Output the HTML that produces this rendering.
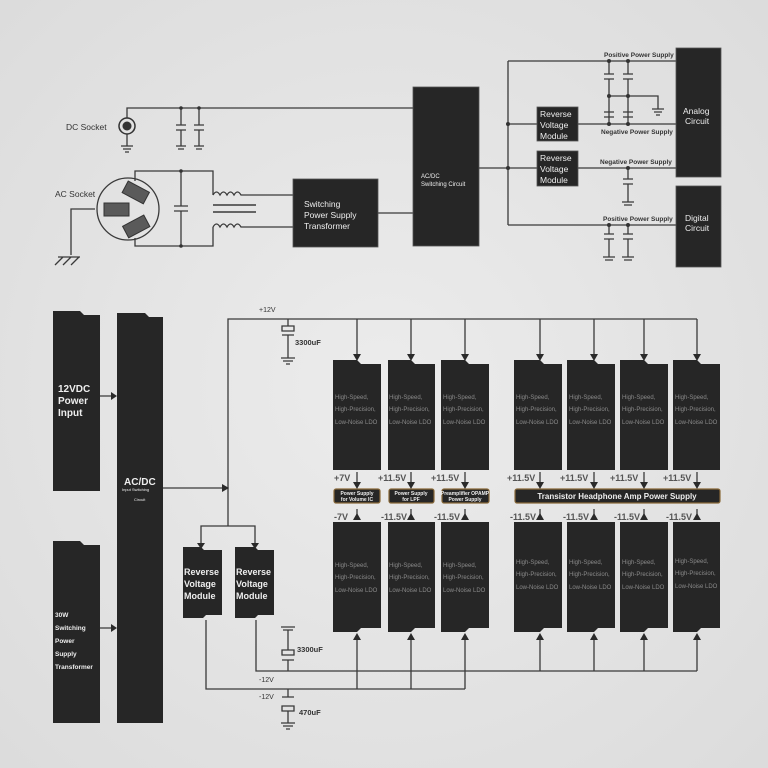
<!DOCTYPE html>
<html><head><meta charset="utf-8"><style>
html,body{margin:0;padding:0;width:768px;height:768px;overflow:hidden;background:#e3e3e3}
svg{display:block;font-family:"Liberation Sans",sans-serif}
</style></head><body>
<svg width="768" height="768" viewBox="0 0 768 768" xmlns="http://www.w3.org/2000/svg">
<defs>
<radialGradient id="bg" cx="50%" cy="50%" r="70%"><stop offset="0" stop-color="#ececec"/><stop offset="1" stop-color="#dcdcdc"/></radialGradient>
</defs>
<rect width="768" height="768" fill="url(#bg)"/>
<g stroke="#3a3a3a" stroke-width="1.3" fill="none">
<path d="M127,118 V108 H413"/>
<path d="M127,134 V146 M121,146 H133 M123,149 H131 M125,152 H129"/>
<path d="M181,108 V125 M181,130 V146 M176,125 H186 M176,130 H186 M176,146 H186 M178,149 H184"/>
<path d="M199,108 V125 M199,130 V146 M194,125 H204 M194,130 H204 M194,146 H204 M196,149 H202"/>
<circle cx="128" cy="209" r="31"/>
<path d="M135,181 V171 H213 V195 M135,238 V246 H213 V227"/>
<path d="M181,171 V206 M181,211 V246 M174,206 H188 M174,211 H188"/>
<path d="M213,195 q3.5,-6 7,0 q3.5,-6 7,0 q3.5,-6 7,0 q3.5,-6 7,0 H293 M213,227 q3.5,-6 7,0 q3.5,-6 7,0 q3.5,-6 7,0 q3.5,-6 7,0 H293"/>
<path d="M213,205 H256 M213,212 H256" stroke-width="1.6"/>
<path d="M95,209 H71 V255 M55,265 l8,-8 M63,265 l8,-8 M71,265 l8,-8 M58,257 H80"/>
<path d="M378,213 H413"/>
<path d="M479,168 H537 M508,61 V225 M508,61 H676 M508,124 H537 M578,124 H676 M578,168 H676 M508,225 H676"/>
<path d="M609,61 V74 M609,79 V112 M604,74 H614 M604,79 H614 M628,61 V74 M628,79 V112 M623,74 H633 M623,79 H633"/>
<path d="M609,96 H658 V109 M652,109 H664 M654,112 H662 M656,115 H660"/>
<path d="M609,112 V117 M628,112 V117 M604,112 H614 M604,117 H614 M623,112 H633 M623,117 H633 M609,117 V124 M628,117 V124"/>
<path d="M628,168 V179 M628,184 V202 M623,179 H633 M623,184 H633 M622,202 H634 M624,205 H632"/>
<path d="M609,225 V234 M609,239 V257 M604,234 H614 M604,239 H614 M603,257 H615 M605,260 H613 M628,225 V234 M628,239 V257 M623,234 H633 M623,239 H633 M622,257 H634 M624,260 H632"/>
<path d="M228,526 V319 H697"/>
<path d="M357,319 V354 M411,319 V354 M465,319 V354 M540,319 V354 M594,319 V354 M644,319 V354 M697,319 V354"/>
<path d="M288,319 V326 M282,326 H294 V331 H282 Z M282,335 H294 M288,335 V358 M281,358 H295 M283,361 H293 M286,364 H290"/>
<path d="M163,488 H222 M100,396 H111 M100,628 H111"/>
<path d="M201,543 V526 H255 V543"/>
<path d="M206,620 V689 H465 M256,620 V671 H697"/>
<path d="M281,627 H295 M283,630 H293 M288,630 V650 M282,650 H294 V655 H282 Z M282,660 H294 M288,660 V671"/>
<path d="M282,697 H294 M288,689 V697 M282,706 H294 V711 H282 Z M288,711 V723 M281,723 H295 M283,726 H293 M286,729 H290"/>
<path d="M357,472 V482 M411,472 V482 M465,472 V482 M540,472 V482 M594,472 V482 M644,472 V482 M697,472 V482"/>
<path d="M357,509 V520 M411,509 V520 M465,509 V520 M540,509 V520 M594,509 V520 M644,509 V520 M697,509 V520"/>
<path d="M357,689 V640 M411,689 V640 M465,689 V640 M540,671 V640 M594,671 V640 M644,671 V640 M697,671 V640"/>
</g>
<g fill="#333">
<circle cx="127" cy="126" r="8" fill="none" stroke="#333" stroke-width="1.5"/>
<circle cx="127" cy="126" r="4.5"/>
<g fill="#5a5a5a" stroke="#333" stroke-width="1"><rect x="104" y="203" width="25" height="13"/><rect x="124" y="186" width="24" height="13" transform="rotate(28 136 192)"/><rect x="124" y="220" width="24" height="13" transform="rotate(-28 136 226)"/></g>
<circle cx="181" cy="108" r="1.8"/><circle cx="199" cy="108" r="1.8"/><circle cx="181" cy="171" r="1.8"/><circle cx="181" cy="246" r="1.8"/>
<circle cx="508" cy="124" r="2"/><circle cx="508" cy="168" r="2"/>
<circle cx="609" cy="61" r="2"/><circle cx="628" cy="61" r="2"/><circle cx="609" cy="96" r="2"/><circle cx="628" cy="96" r="2"/><circle cx="609" cy="124" r="2"/><circle cx="628" cy="124" r="2"/><circle cx="628" cy="168" r="2"/><circle cx="609" cy="225" r="2"/><circle cx="628" cy="225" r="2"/>
</g>
<g fill="#262626" stroke="#555" stroke-width="0.8">
<rect x="293" y="179" width="85" height="68"/>
<rect x="413" y="87" width="66" height="159"/>
<rect x="537" y="107" width="41" height="34"/>
<rect x="537" y="151" width="41" height="35"/>
<rect x="676" y="48" width="45" height="129"/>
<rect x="676" y="186" width="45" height="81"/>
</g>
<g fill="#262626">
<path d="M53,311 H80 l4,4 H100 V491 H53 Z"/>
<path d="M53,541 H80 l4,4 H100 V723 H53 Z"/>
<path d="M117,313 H145 l4,4 H163 V723 H117 Z"/>
<path d="M183,547 H201 l3,3 H222 V615 H206 l-3,3 H183 Z"/>
<path d="M235,547 H255 l3,3 H274 V615 H258 l-3,3 H235 Z"/>
<path d="M333,360 H357 l4,4 H381 V470 H333 Z"/>
<path d="M388,360 H411 l4,4 H435 V470 H388 Z"/>
<path d="M441,360 H465 l4,4 H489 V470 H441 Z"/>
<path d="M514,360 H540 l4,4 H562 V470 H514 Z"/>
<path d="M567,360 H594 l4,4 H615 V470 H567 Z"/>
<path d="M620,360 H644 l4,4 H668 V470 H620 Z"/>
<path d="M673,360 H697 l4,4 H720 V470 H673 Z"/>
<path d="M333,522 H381 V628 H361 l-4,4 H333 Z"/>
<path d="M388,522 H435 V628 H415 l-4,4 H388 Z"/>
<path d="M441,522 H489 V628 H469 l-4,4 H441 Z"/>
<path d="M514,522 H562 V628 H544 l-4,4 H514 Z"/>
<path d="M567,522 H615 V628 H598 l-4,4 H567 Z"/>
<path d="M620,522 H668 V628 H648 l-4,4 H620 Z"/>
<path d="M673,522 H720 V628 H701 l-4,4 H673 Z"/>
<g stroke="#8a6a3a" stroke-width="1.2"><rect x="334" y="489" width="46" height="14" rx="2"/><rect x="389" y="489" width="45" height="14" rx="2"/><rect x="442" y="489" width="47" height="14" rx="2"/><rect x="515" y="489" width="205" height="14" rx="2"/></g>
</g>
<g fill="#2a2a2a">
<path d="M353,354 h8 l-4,7 z M407,354 h8 l-4,7 z M461,354 h8 l-4,7 z M536,354 h8 l-4,7 z M590,354 h8 l-4,7 z M640,354 h8 l-4,7 z M693,354 h8 l-4,7 z"/>
<path d="M353,482 h8 l-4,7 z M407,482 h8 l-4,7 z M461,482 h8 l-4,7 z M536,482 h8 l-4,7 z M590,482 h8 l-4,7 z M640,482 h8 l-4,7 z M693,482 h8 l-4,7 z"/>
<path d="M353,520 h8 l-4,-7 z M407,520 h8 l-4,-7 z M461,520 h8 l-4,-7 z M536,520 h8 l-4,-7 z M590,520 h8 l-4,-7 z M640,520 h8 l-4,-7 z M693,520 h8 l-4,-7 z"/>
<path d="M353,640 h8 l-4,-7 z M407,640 h8 l-4,-7 z M461,640 h8 l-4,-7 z M536,640 h8 l-4,-7 z M590,640 h8 l-4,-7 z M640,640 h8 l-4,-7 z M693,640 h8 l-4,-7 z"/>
<path d="M111,392 v8 l6,-4 z M111,624 v8 l6,-4 z M222,484 v8 l7,-4 z M197,543 h8 l-4,6 z M251,543 h8 l-4,6 z"/>
</g>
<g font-size="8.5" fill="#333">
<text x="66" y="130">DC Socket</text>
<text x="55" y="197">AC Socket</text>
<text x="604" y="57" font-size="6.5" font-weight="bold">Positive Power Supply</text>
<text x="601" y="134" font-size="6.5" font-weight="bold">Negative Power Supply</text>
<text x="600" y="164" font-size="6.5" font-weight="bold">Negative Power Supply</text>
<text x="603" y="221" font-size="6.5" font-weight="bold">Positive Power Supply</text>
<text x="259" y="312" font-size="7">+12V</text>
<text x="295" y="345" font-size="7.5" font-weight="bold">3300uF</text>
<text x="297" y="652" font-size="7.5" font-weight="bold">3300uF</text>
<text x="259" y="682" font-size="7">-12V</text>
<text x="259" y="699" font-size="7">-12V</text>
<text x="299" y="715" font-size="7.5" font-weight="bold">470uF</text>
<g font-size="9" font-weight="bold" fill="#555">
<text x="334" y="481">+7V</text><text x="378" y="481">+11.5V</text><text x="431" y="481">+11.5V</text><text x="507" y="481">+11.5V</text><text x="560" y="481">+11.5V</text><text x="610" y="481">+11.5V</text><text x="663" y="481">+11.5V</text>
<text x="334" y="520">-7V</text><text x="381" y="520">-11.5V</text><text x="434" y="520">-11.5V</text><text x="510" y="520">-11.5V</text><text x="563" y="520">-11.5V</text><text x="614" y="520">-11.5V</text><text x="666" y="520">-11.5V</text>
</g>
</g>
<g fill="#eee" font-size="8.5">
<text x="304" y="207">Switching</text><text x="304" y="218">Power Supply</text><text x="304" y="229">Transformer</text>
<text x="421" y="178" font-size="6">AC/DC</text><text x="421" y="186" font-size="6">Switching Circuit</text>
<text x="540" y="117">Reverse</text><text x="540" y="128">Voltage</text><text x="540" y="139">Module</text>
<text x="540" y="161">Reverse</text><text x="540" y="172">Voltage</text><text x="540" y="183">Module</text>
<text x="683" y="114">Analog</text><text x="685" y="124">Circuit</text>
<text x="685" y="221">Digital</text><text x="685" y="231">Circuit</text>
<g font-weight="bold" font-size="10"><text x="58" y="392">12VDC</text><text x="58" y="404">Power</text><text x="58" y="416">Input</text>
<text x="124" y="485">AC/DC</text></g>
<g font-weight="bold" font-size="9">
<text x="184" y="575">Reverse</text><text x="184" y="587">Voltage</text><text x="184" y="599">Module</text>
<text x="236" y="575">Reverse</text><text x="236" y="587">Voltage</text><text x="236" y="599">Module</text></g>
<text x="122" y="491" font-size="4">Input Switching</text><text x="134" y="501" font-size="4">Circuit</text>
<g font-size="6.5" font-weight="bold"><text x="55" y="617">30W</text><text x="55" y="630">Switching</text><text x="55" y="643">Power</text><text x="55" y="656">Supply</text><text x="55" y="669">Transformer</text></g>
<g font-size="5" font-weight="bold" text-anchor="middle"><text x="357" y="495">Power Supply</text><text x="357" y="501">for Volume IC</text><text x="411" y="495">Power Supply</text><text x="411" y="501">for LPF</text><text x="465" y="495">Preamplifier OPAMP</text><text x="465" y="501">Power Supply</text></g>
<text x="617" y="499" font-size="8" font-weight="bold" text-anchor="middle">Transistor Headphone Amp Power Supply</text>
</g>
<g fill="#8a8a8a" font-size="6">
<g id="t"><text x="335" y="399">High-Speed,</text><text x="335" y="411">High-Precision,</text><text x="335" y="424">Low-Noise LDO</text></g>
<use href="#t" x="54"/><use href="#t" x="108"/><use href="#t" x="181"/><use href="#t" x="234"/><use href="#t" x="287"/><use href="#t" x="340"/>
<use href="#t" y="168"/><use href="#t" x="54" y="168"/><use href="#t" x="108" y="168"/><use href="#t" x="181" y="165"/><use href="#t" x="234" y="165"/><use href="#t" x="287" y="165"/><use href="#t" x="340" y="164"/>
</g>
</svg>
</body></html>
